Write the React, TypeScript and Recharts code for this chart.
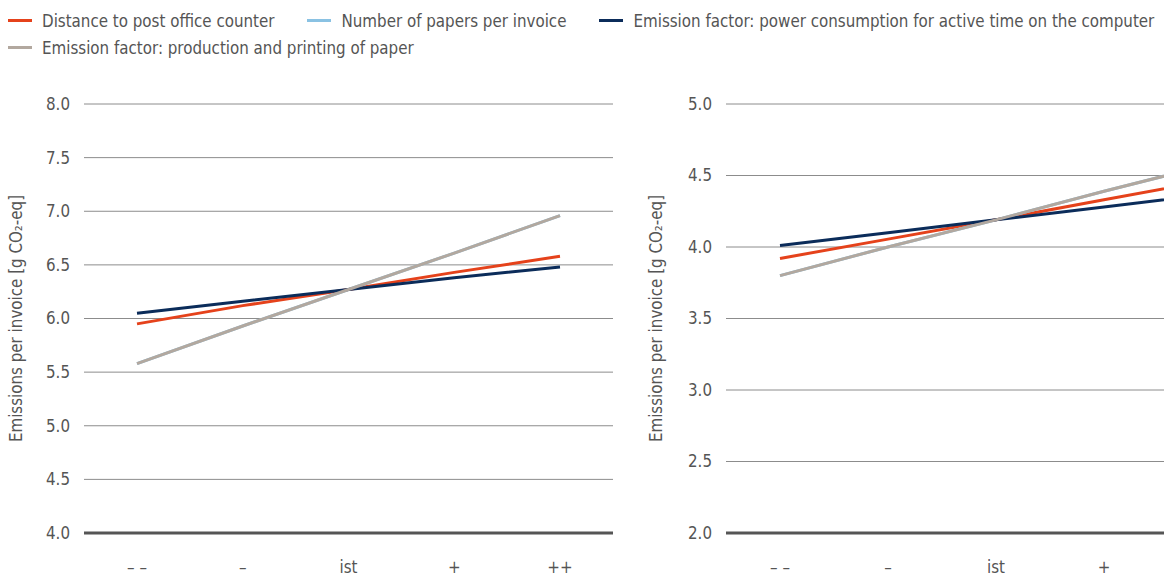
import { CartesianGrid, Label, Line, LineChart, ReferenceLine, XAxis, YAxis } from "recharts";

const categories = ["– –", "–", "ist", "+", "++"];

// left panel
const leftDistance = [5.95, 6.12, 6.27, 6.43, 6.58];
const leftPapers = [5.58, 5.93, 6.27, 6.61, 6.96];
const leftPower = [6.05, 6.16, 6.27, 6.38, 6.48];
const leftPrinting = [5.58, 5.93, 6.27, 6.61, 6.96];
const leftTicks = [4, 4.5, 5, 5.5, 6, 6.5, 7, 7.5, 8];

// right panel
const rightDistance = [3.92, 4.055, 4.19, 4.33, 4.47];
const rightPapers = [3.8, 4.0, 4.19, 4.39, 4.58];
const rightPower = [4.01, 4.1, 4.19, 4.28, 4.37];
const rightPrinting = [3.8, 4.0, 4.19, 4.39, 4.58];
const rightTicks = [2, 2.5, 3, 3.5, 4, 4.5, 5];

const series = [
  { key: "distance", name: "Distance to post office counter", color: "#e5421b" },
  { key: "papers", name: "Number of papers per invoice", color: "#8ac2e3" },
  { key: "power", name: "Emission factor: power consumption for active time on the computer", color: "#0b2c5a" },
  { key: "printing", name: "Emission factor: production and printing of paper", color: "#b2a89f" },
];

const FONT = "'DejaVu Sans Condensed', 'DejaVu Sans', sans-serif";
const FS = 16.8;
const TEXT = "#555555";
const yLabel = "Emissions per invoice [g CO₂-eq]";

function buildRows(values: number[][]) {
  return categories.map((c, i) => ({
    cat: c,
    distance: values[0][i],
    papers: values[1][i],
    power: values[2][i],
    printing: values[3][i],
  }));
}

function AxisTitle({ viewBox }: any) {
  const cx = 16;
  const cy = viewBox.y + viewBox.height / 2;
  return (
    <text
      x={cx}
      y={cy}
      transform={`rotate(-90, ${cx}, ${cy})`}
      textAnchor="middle"
      dominantBaseline="central"
      fill={TEXT}
      fontSize={FS}
      fontFamily={FONT}
    >
      {yLabel}
    </text>
  );
}

function Panel({
  rows,
  ticks,
  width,
  axisWidth,
  pad,
}: {
  rows: any[];
  ticks: number[];
  width: number;
  axisWidth: number;
  pad: number;
}) {
  const min = ticks[0];
  const max = ticks[ticks.length - 1];
  return (
    <LineChart width={width} height={578} data={rows} margin={{ top: 104, right: 0, bottom: 0, left: 0 }}>
      <CartesianGrid stroke="#8c8c8c" vertical={false} />
      <XAxis
        dataKey="cat"
        height={45}
        axisLine={false}
        tickLine={false}
        tickSize={0}
        tickMargin={28}
        padding={{ left: pad, right: pad }}
        interval={0}
        tick={{ fill: TEXT, fontSize: FS, fontFamily: FONT }}
      />
      <YAxis
        width={axisWidth}
        domain={[min, max]}
        ticks={ticks}
        axisLine={false}
        tickLine={false}
        tickSize={0}
        tickMargin={14}
        tickFormatter={(v: number) => v.toFixed(1)}
        tick={{ fill: TEXT, fontSize: FS, fontFamily: FONT }}
      >
        <Label content={<AxisTitle />} />
      </YAxis>
      <ReferenceLine y={min} stroke="#555555" strokeWidth={3} />
      {series.map((s) => (
        <Line
          key={s.key}
          dataKey={s.key}
          name={s.name}
          stroke={s.color}
          strokeWidth={3}
          dot={false}
          activeDot={false}
          type="linear"
          isAnimationActive={false}
        />
      ))}
    </LineChart>
  );
}

function LegendRow({ items }: { items: typeof series }) {
  return (
    <div style={{ display: "flex", columnGap: 33, height: 27, alignItems: "center", whiteSpace: "nowrap" }}>
      {items.map((s) => (
        <div key={s.key} style={{ display: "flex", alignItems: "center" }}>
          <span style={{ display: "inline-block", width: 24, height: 3, background: s.color, marginRight: 10 }} />
          <span>{s.name}</span>
        </div>
      ))}
    </div>
  );
}

export default function App() {
  const leftRows = buildRows([leftDistance, leftPapers, leftPower, leftPrinting]);
  const rightRows = buildRows([rightDistance, rightPapers, rightPower, rightPrinting]);
  return (
    <div
      style={{
        position: "absolute",
        left: 0,
        top: 0,
        width: 1164,
        height: 578,
        overflow: "hidden",
        background: "#fff",
        fontFamily: FONT,
      }}
    >
      <div style={{ position: "absolute", left: 8, top: 7, fontSize: FS, color: TEXT }}>
        <LegendRow items={series.slice(0, 3)} />
        <LegendRow items={series.slice(3)} />
      </div>
      <div style={{ position: "absolute", left: 0, top: 0 }}>
        <Panel rows={leftRows} ticks={leftTicks} width={613} axisWidth={84} pad={53} />
      </div>
      <div style={{ position: "absolute", left: 640, top: 0 }}>
        <Panel rows={rightRows} ticks={rightTicks} width={626} axisWidth={86} pad={54} />
      </div>
    </div>
  );
}
